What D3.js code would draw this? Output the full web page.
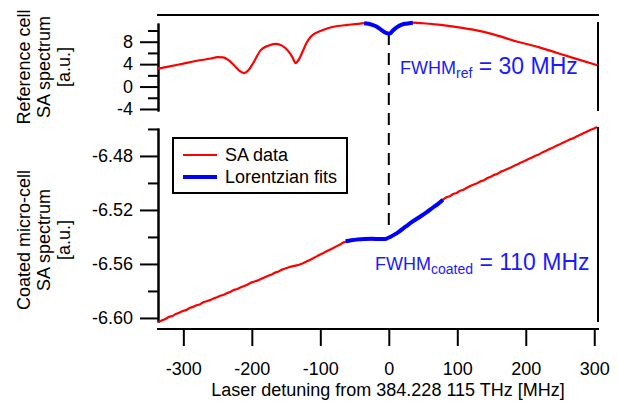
<!DOCTYPE html>
<html>
<head>
<meta charset="utf-8">
<script src="https://cdn.jsdelivr.net/npm/d3@7"></script>
<style>
  html, body { margin: 0; padding: 0; background: #fff; }
  svg { display: block; font-family: "Liberation Sans", Arial, sans-serif; }
</style>
</head>
<body>
<svg id="chart" width="618" height="403"></svg>
<script>
// ---------- data ----------
const refX = [-337, -320, -300, -280, -260, -250, -242, -234, -226, -218, -211, -205, -198, -187, -176, -165, -156, -148, -141, -136, -131, -126, -120, -114, -100, -89, -75, -60, -45, -36, -30, -24, -18, -12, -6, -2, 0, 2, 6, 12, 18, 24, 30, 35, 50, 76, 100, 125, 150, 188, 220, 246, 275, 305];
const refY = [3.2, 3.6, 4.1, 4.6, 5.0, 5.25, 5.2, 4.7, 3.8, 2.8, 2.4, 2.9, 4.2, 6.5, 7.3, 7.6, 7.3, 6.5, 5.3, 4.2, 4.9, 6.2, 7.8, 8.9, 9.9, 10.4, 10.8, 11.0, 11.2, 11.3, 11.2, 11.0, 10.7, 10.2, 9.7, 9.5, 9.5, 9.6, 10.0, 10.6, 11.0, 11.2, 11.3, 11.4, 11.3, 11.0, 10.6, 10.1, 9.4, 8.0, 7.0, 6.0, 4.9, 3.8];

const refFitX = [-36, -30, -24, -18, -12, -6, -2, 0, 2, 6, 12, 18, 24, 30, 35];
const refFitY = [11.3, 11.2, 11.0, 10.7, 10.2, 9.7, 9.5, 9.45, 9.5, 10.0, 10.6, 11.0, 11.2, 11.3, 11.4];

const coatX = [-336, -331, -326, -321, -316, -311, -306, -301, -296, -291, -286, -281, -276, -271, -266, -261, -256, -251, -246, -241, -236, -231, -226, -221, -216, -211, -206, -201, -196, -191, -186, -181, -176, -171, -166, -161, -156, -151, -146, -141, -136, -131, -126, -121, -116, -111, -106, -101, -96, -91, -86, -81, -76, -71, -66, -56, -46, -36, -26, -16, -6, 4, 14, 24, 34, 44, 54, 64, 74, 79, 84, 89, 94, 99, 104, 109, 114, 119, 124, 129, 134, 139, 144, 149, 154, 159, 164, 169, 174, 179, 184, 189, 194, 199, 204, 209, 214, 219, 224, 229, 234, 239, 244, 249, 254, 259, 264, 269, 274, 279, 284, 289, 294, 299, 304];
const coatY = [-6.6030, -6.6018, -6.6008, -6.5992, -6.5986, -6.5970, -6.5962, -6.5948, -6.5942, -6.5926, -6.5918, -6.5906, -6.5900, -6.5884, -6.5876, -6.5868, -6.5856, -6.5846, -6.5835, -6.5828, -6.5816, -6.5806, -6.5792, -6.5786, -6.5772, -6.5764, -6.5752, -6.5738, -6.5730, -6.5722, -6.5710, -6.5698, -6.5688, -6.5678, -6.5664, -6.5656, -6.5642, -6.5634, -6.5624, -6.5618, -6.5612, -6.5606, -6.5596, -6.5584, -6.5572, -6.5560, -6.5546, -6.5532, -6.5520, -6.5506, -6.5494, -6.5482, -6.5468, -6.5456, -6.5440, -6.5428, -6.5420, -6.5415, -6.5416, -6.5418, -6.5414, -6.5396, -6.5364, -6.5326, -6.5288, -6.5254, -6.5222, -6.5188, -6.5146, -6.5124, -6.5106, -6.5098, -6.5082, -6.5074, -6.5058, -6.5050, -6.5036, -6.5022, -6.5012, -6.5002, -6.4988, -6.4980, -6.4964, -6.4954, -6.4940, -6.4932, -6.4916, -6.4906, -6.4894, -6.4884, -6.4870, -6.4860, -6.4846, -6.4836, -6.4822, -6.4812, -6.4798, -6.4790, -6.4774, -6.4764, -6.4750, -6.4740, -6.4726, -6.4716, -6.4702, -6.4692, -6.4678, -6.4670, -6.4656, -6.4644, -6.4632, -6.4620, -6.4608, -6.4598, -6.4585];

const coatFitX = [-63, -55, -45, -35, -25, -15, -8, -3, 2, 8, 15, 25, 35, 45, 55, 65, 72, 79];
const coatFitY = [-6.5432, -6.5424, -6.5418, -6.5415, -6.5414, -6.5415, -6.5416, -6.5412, -6.5400, -6.5383, -6.5360, -6.5322, -6.5285, -6.5252, -6.5218, -6.5180, -6.5155, -6.5125];

const xTicks = [-300, -200, -100, 0, 100, 200, 300];
const refTicksMajor = [-4, 0, 4, 8];
const refTicksMinor = [-2, 2, 6, 10];
const coatTicksMajor = [-6.60, -6.56, -6.52, -6.48];
const coatTicksMinor = [-6.58, -6.54, -6.50, -6.46];

const legendLabels = ["SA data", "Lorentzian fits"];
const refYLabel = ["Reference cell", "SA spectrum", "[a.u.]"];
const coatYLabel = ["Coated micro-cell", "SA spectrum", "[a.u.]"];
const xLabel = "Laser detuning from 384.228 115 THz [MHz]";

// ---------- drawing ----------
const RED = "#ff0000", BLUE = "#0000ff", TXTBLUE = "#1a1aff";
const svg = d3.select("#chart");

const x = d3.scaleLinear().domain([-337, 304]).range([158, 597]);
const yRef = d3.scaleLinear().domain([-4.36, 11.34]).range([111, 23]);
const yCoat = d3.scaleLinear().domain([-6.603, -6.4593]).range([322, 128]);

const hyph = f => (v => f(v).replace("\u2212", "-"));

function styleAxis(g, w) {
  g.selectAll("path.domain").attr("stroke", "#000").attr("stroke-width", w);
  g.selectAll(".tick line").attr("stroke", "#000").attr("stroke-width", 2);
  g.selectAll(".tick text").attr("fill", "#000").attr("font-size", 18)
    .attr("font-family", "Liberation Sans, Arial, sans-serif");
}

function leftAxis(scale, major, minor, fmt) {
  const gMin = svg.append("g").attr("transform", "translate(158,0)")
    .call(d3.axisLeft(scale).tickValues(minor).tickSize(10).tickSizeOuter(0).tickFormat(""));
  styleAxis(gMin, 2);
  const gMaj = svg.append("g").attr("transform", "translate(158,0)")
    .call(d3.axisLeft(scale).tickValues(major).tickSize(18).tickSizeOuter(0).tickPadding(7).tickFormat(fmt));
  styleAxis(gMaj, 2);
}
leftAxis(yRef, refTicksMajor, refTicksMinor, hyph(d3.format("d")));
leftAxis(yCoat, coatTicksMajor, coatTicksMinor, hyph(d3.format(".2f")));

// right lines (no ticks)
svg.append("line").attr("x1", 598).attr("x2", 598).attr("y1", yRef.range()[1] - 1).attr("y2", yRef.range()[0])
  .attr("stroke", "#000").attr("stroke-width", 2);
svg.append("line").attr("x1", 598).attr("x2", 598).attr("y1", yCoat.range()[1] - 1).attr("y2", yCoat.range()[0])
  .attr("stroke", "#000").attr("stroke-width", 2);
// top frame line
svg.append("line").attr("x1", 157).attr("x2", 599).attr("y1", 15).attr("y2", 15)
  .attr("stroke", "#000").attr("stroke-width", 2);

// bottom axis
const gx = svg.append("g").attr("transform", "translate(0,329)")
  .call(d3.axisBottom(x).tickValues(xTicks).tickSize(17).tickSizeOuter(0).tickPadding(16).tickFormat(hyph(d3.format("d"))));
styleAxis(gx, 2);
gx.select("path.domain").attr("d", "M157,0H599");

// x label
svg.append("text").attr("x", 388).attr("y", 396).attr("text-anchor", "middle")
  .attr("font-size", 18).attr("fill", "#000").text(xLabel);

// y labels (rotated)
function yLabel(lines, cy) {
  const bl = [30, 50, 70];
  lines.forEach((t, i) => {
    svg.append("text").attr("transform", `translate(${bl[i]},${cy}) rotate(-90)`)
      .attr("text-anchor", "middle").attr("font-size", 18).attr("fill", "#000").text(t);
  });
}
yLabel(refYLabel, 67);
yLabel(coatYLabel, 240);

// dashed line at 0
svg.append("line").attr("x1", x(0)).attr("x2", x(0)).attr("y1", 33).attr("y2", 228)
  .attr("stroke", "#000").attr("stroke-width", 2).attr("stroke-dasharray", "12,8");

// curves
const lineRef = d3.line().x(d => x(d[0])).y(d => yRef(d[1])).curve(d3.curveMonotoneX);
const lineCoat = d3.line().x(d => x(d[0])).y(d => yCoat(d[1])).curve(d3.curveLinear);
const lineCoatFit = d3.line().x(d => x(d[0])).y(d => yCoat(d[1])).curve(d3.curveMonotoneX);

svg.append("path").datum(d3.zip(refX, refY)).attr("d", lineRef)
  .attr("fill", "none").attr("stroke", RED).attr("stroke-width", 2.2);
svg.append("path").datum(d3.zip(refFitX, refFitY)).attr("d", lineRef)
  .attr("fill", "none").attr("stroke", BLUE).attr("stroke-width", 4);

svg.append("path").datum(d3.zip(coatX, coatY)).attr("d", lineCoat)
  .attr("fill", "none").attr("stroke", RED).attr("stroke-width", 2.2);
svg.append("path").datum(d3.zip(coatFitX, coatFitY)).attr("d", lineCoatFit)
  .attr("fill", "none").attr("stroke", BLUE).attr("stroke-width", 4);

// legend
svg.append("rect").attr("x", 173).attr("y", 138).attr("width", 174).attr("height", 55)
  .attr("fill", "#fff").attr("stroke", "#000").attr("stroke-width", 2);
const legColors = [RED, BLUE], legW = [2.2, 4], legY = [155, 177];
legendLabels.forEach((t, i) => {
  svg.append("line").attr("x1", 183).attr("x2", 217).attr("y1", legY[i]).attr("y2", legY[i])
    .attr("stroke", legColors[i]).attr("stroke-width", legW[i]);
  svg.append("text").attr("x", 225).attr("y", legY[i] + 6).attr("font-size", 18).attr("fill", "#000").text(t);
});

// annotations
function fwhm(xp, yp, sub, val) {
  const t = svg.append("text").attr("x", xp).attr("y", yp).attr("fill", TXTBLUE);
  t.append("tspan").attr("font-size", 18).text("FWHM");
  t.append("tspan").attr("font-size", 14).attr("dy", 4).text(sub);
  t.append("tspan").attr("font-size", 23).attr("dy", -4).text(" = " + val);
}
fwhm(400, 74, "ref", "30 MHz");
fwhm(375, 270, "coated", "110 MHz");
</script>
</body>
</html>
